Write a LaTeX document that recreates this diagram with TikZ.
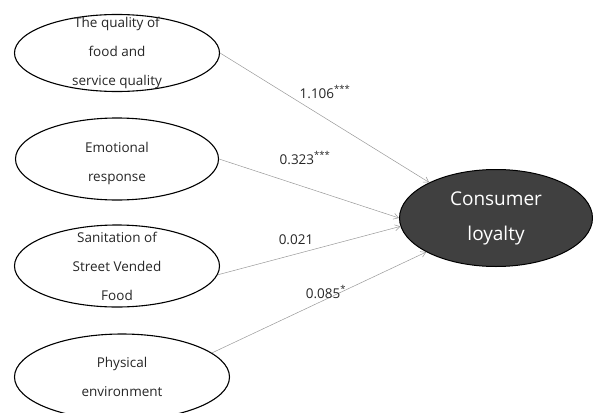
\documentclass[tikz,border=0pt]{standalone}
\usepackage{fontspec}
\setmainfont{Open Sans}
\usetikzlibrary{shapes.geometric,arrows.meta}
\begin{document}
\begin{tikzpicture}[x=1pt,y=-1pt] % path model
\tikzstyle{factor} = [ellipse, draw, line width=1.1pt, inner sep=0pt] % factor ellipse style
\tikzstyle{factortext} = [align=center, text=black!85, font=\fontsize{13.5}{29}\selectfont] % text inside the factor
\tikzstyle{outcome} = [ellipse, draw, fill=black!75, line width=1pt, minimum width=193pt, minimum height=97pt, inner sep=0pt] % dependent variable
\tikzstyle{coefpath} = [-{Straight Barb[length=5pt,width=6pt]}, draw=gray!80, line width=0.5pt] % path arrow
\tikzstyle{coef} = [inner sep=0pt, text=black!85, font=\fontsize{13.5}{16}\selectfont] % coefficient

\useasboundingbox (0,0) rectangle (593,412);

%
\node[factor, minimum width=205pt, minimum height=77pt,
	label={[factortext]center:{The quality of\\food and\\service quality}}] (F1) at (117,53) {};
\node[factor, minimum width=203pt, minimum height=82pt,
	label={[factortext, yshift=-4pt]center:{Emotional\\response}}] (F2) at (117,159) {};
\node[factor, minimum width=205pt, minimum height=82pt,
	label={[factortext]center:{Sanitation of\\Street Vended\\Food}}] (F3) at (117,266) {};
\node[factor, minimum width=215pt, minimum height=86pt,
	label={[factortext, yshift=0pt]center:{Physical\\environment}}] (F4) at (122,377) {};
%
\node[outcome, label={[align=center, text=white, font=\fontsize{19}{35}\selectfont]center:{Consumer\\loyalty}}] (L) at (496,218) {};

\draw[coefpath] (F1.east) -- (L.152);
\draw[coefpath] (F2.east) -- (L.west);
\draw[coefpath] (F3.355) -- (L.185);
\draw[coefpath] (F4.15) -- (L.206);

\node[coef] (C1) at (325,92) {1.106\textsuperscript{***}};
\node[coef] (C2) at (305,158) {0.323\textsuperscript{***}};
\node[coef] (C3) at (296,240) {0.021};
\node[coef] (C4) at (326,292) {0.085\textsuperscript{*}};
\end{tikzpicture}
\end{document}
